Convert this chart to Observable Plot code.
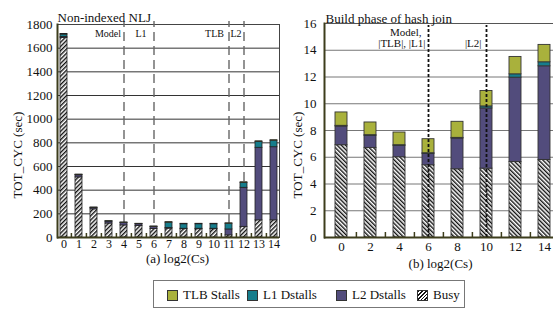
<!DOCTYPE html>
<html><head><meta charset="utf-8">
<script src="https://cdn.jsdelivr.net/npm/d3@7"></script>
<script src="https://cdn.jsdelivr.net/npm/@observablehq/plot@0.6"></script>
<style>
body{margin:0;background:#fff;}
#wrap{position:relative;width:553px;height:311px;overflow:hidden;font-family:"Liberation Serif","DejaVu Serif",serif;}
#wrap svg, #wrap svg text{font-family:"Liberation Serif","DejaVu Serif",serif !important;}
#wrap svg{max-width:none !important;}
.panel{position:absolute;top:0;width:290px;height:280px;}
#legend{position:absolute;left:153px;top:280px;width:312px;height:28px;border:1.5px solid #777;box-sizing:border-box;}
.item{position:absolute;top:1px;height:100%;display:flex;align-items:center;font-size:13px;color:#111;white-space:nowrap;font-family:"Liberation Serif",serif;}
.sw{width:11px;height:11px;border:1px solid #333;box-sizing:border-box;margin-right:5px;}
</style></head><body>
<div id="wrap"><div id="left" class="panel" style="left:0"></div><div id="right" class="panel" style="left:280px"></div><div id="legend"></div></div>
<script>
// ---- data ----
const series = ["TLB Stalls", "L1 Dstalls", "L2 Dstalls", "Busy"];
const stackOrder = ["Busy", "L2 Dstalls", "L1 Dstalls", "TLB Stalls"];

const leftCs   = [0, 1, 2, 3, 4, 5, 6, 7, 8, 9, 10, 11, 12, 13, 14];
const leftBusy = [1685, 508, 238, 118, 102, 98, 72, 75, 70, 70, 70, 18, 90, 145, 145];
const leftL2   = [10, 18, 12, 16, 20, 14, 17, 5, 4, 4, 4, 50, 330, 613, 618];
const leftL1   = [20, 3, 2, 2, 3, 2, 2, 45, 38, 38, 38, 48, 40, 50, 55];
const leftTLB  = [5, 3, 1, 2, 2, 2, 2, 5, 4, 4, 4, 4, 7, 5, 4];
const leftYTicks = [0, 200, 400, 600, 800, 1000, 1200, 1400, 1600, 1800];
const leftMarkers = [4, 6, 11, 12];
const leftMarkerLabels = ["Model", "L1", "TLB", "L2"];
const leftMarkerLabelAt = [4, 5, 11, 11];

const rightCs   = [0, 2, 4, 6, 8, 10, 12, 14];
const rightBusy = [6.9, 6.7, 6.0, 5.4, 5.1, 5.15, 5.65, 5.8];
const rightL2   = [1.4, 0.9, 0.85, 0.85, 2.3, 4.5, 6.3, 7.0];
const rightL1   = [0.05, 0.05, 0.05, 0.05, 0.05, 0.15, 0.25, 0.3];
const rightTLB  = [1.0, 0.95, 0.95, 1.05, 1.2, 1.15, 1.3, 1.3];
const rightYTicks = [0, 2, 4, 6, 8, 10, 12, 14, 16];
const rightMarkers = [6, 10];
const rightMarkerLabels = ["Model,", "|TLB|, |L1|", "|L2|"];
const rightMarkerLabelAt = [6, 6, 10];

// ---- layout / styles ----
const colors = {"TLB Stalls": "#a9b13c", "L1 Dstalls": "#167d8c", "L2 Dstalls": "#524c7c"};
const olive = "#3d3d1c";
const font = "'Liberation Serif', 'DejaVu Serif', serif";
const fmt = d => String(d);
const leftLabelLayout = [{dx: -3, anchor: "end"}, {dx: 2, anchor: "middle"}, {dx: -5, anchor: "end"}, {dx: 7, anchor: "middle"}];
const rightLabelLayout = [{dx: -7, anchor: "end", top: 8.5}, {dx: -3, anchor: "end", top: 20}, {dx: -5, anchor: "end", top: 20}];

function tidy(cs, busy, l2, l1, tlb) {
  const out = [];
  cs.forEach((c, i) => {
    out.push({cs: c, series: "Busy", value: busy[i]});
    out.push({cs: c, series: "L2 Dstalls", value: l2[i]});
    out.push({cs: c, series: "L1 Dstalls", value: l1[i]});
    out.push({cs: c, series: "TLB Stalls", value: tlb[i]});
  });
  return out;
}

function addHatch(svg, id, angle) {
  const defs = d3.select(svg).insert("defs", ":first-child");
  const p = defs.append("pattern").attr("id", id).attr("patternUnits", "userSpaceOnUse")
    .attr("width", 3).attr("height", 3).attr("patternTransform", `rotate(${angle})`);
  p.append("rect").attr("width", 3).attr("height", 3).attr("fill", "#fff");
  p.append("rect").attr("width", 1.4).attr("height", 3).attr("fill", "#111");
}

function addYLabel(svg, x, y, text) {
  d3.select(svg).append("text")
    .attr("transform", `translate(${x},${y}) rotate(-90)`)
    .attr("text-anchor", "middle").attr("dominant-baseline", "central")
    .attr("font-size", 13).attr("fill", "#111").text(text);
}

// ---- left panel ----
const leftData = tidy(leftCs, leftBusy, leftL2, leftL1, leftTLB);
const lH = 280, lTop = 24, lBottom = 43;
const lPx = (lH - lTop - lBottom) / 1800;
const leftPlot = Plot.plot({
  width: 290, height: lH,
  marginLeft: 57, marginRight: 11, marginTop: lTop, marginBottom: lBottom,
  style: {fontFamily: font, fontSize: "13px", color: "#111", background: "transparent", overflow: "visible", maxWidth: "none"},
  x: {type: "band", domain: leftCs, paddingInner: 0.55, paddingOuter: 0.175},
  y: {domain: [0, 1800]},
  color: {domain: series, range: [colors["TLB Stalls"], colors["L1 Dstalls"], colors["L2 Dstalls"], "url(#hatchL)"]},
  marks: [
    Plot.ruleY(leftYTicks.slice(1, -1), {stroke: "#333", strokeWidth: 1}),
    Plot.frame({stroke: "#444", strokeWidth: 1}),
    Plot.ruleX(leftMarkers, {x: d => d, y1: 0, y2: 1800 + 3 / lPx, stroke: "#666", strokeWidth: 1.4, strokeDasharray: "9,5"}),
    Plot.barY(leftData, {x: "cs", y: "value", fill: "series", z: "series", order: stackOrder, stroke: "#222", strokeWidth: 0.8}),
    Plot.ruleX(leftCs.slice(0, -1), {x: d => d, dx: 7.4, y1: 0, y2: 4 / lPx, stroke: olive, strokeWidth: 1.5}),
    Plot.ruleY([0], {stroke: olive, strokeWidth: 2}),
    Plot.frame({anchor: "left", stroke: olive, strokeWidth: 2}),
    Plot.axisY({ticks: leftYTicks, tickFormat: fmt, tickSize: 0, tickPadding: 5, label: null, fontSize: 13}),
    Plot.axisX({tickFormat: fmt, tickSize: 0, tickPadding: 2, label: null, fontSize: 12}),
    ...leftMarkerLabels.map((t, i) => Plot.text([t], {x: leftMarkerLabelAt[i], y: 1800 - 9 / lPx, text: d => d, dx: leftLabelLayout[i].dx, textAnchor: leftLabelLayout[i].anchor, fontSize: 10, fill: "#111"})),
    Plot.text(["Non-indexed NLJ"], {frameAnchor: "top-left", dy: -12, textAnchor: "start", fontSize: 13, fill: "#111"}),
    Plot.text(["(a) log2(Cs)"], {frameAnchor: "bottom", dx: 9, dy: 25, fontSize: 13, fill: "#111"})
  ]
});
addHatch(leftPlot, "hatchL", 45);
addYLabel(leftPlot, 17, 155, "TOT_CYC (sec)");
document.getElementById("left").appendChild(leftPlot);

// ---- right panel ----
const rightData = tidy(rightCs, rightBusy, rightL2, rightL1, rightTLB);
const rH = 280, rTop = 23, rBottom = 43;
const rPx = (rH - rTop - rBottom) / 16;
const rightPlot = Plot.plot({
  width: 290, height: rH,
  marginLeft: 44, marginRight: 10, marginTop: rTop, marginBottom: rBottom,
  style: {fontFamily: font, fontSize: "13px", color: "#111", background: "transparent", overflow: "visible", maxWidth: "none"},
  x: {type: "band", domain: rightCs, paddingInner: 0.59, paddingOuter: 0.25},
  y: {domain: [0, 16]},
  color: {domain: series, range: [colors["TLB Stalls"], colors["L1 Dstalls"], colors["L2 Dstalls"], "url(#hatchR)"]},
  marks: [
    Plot.ruleY(rightYTicks.slice(1, -1), {stroke: "#777", strokeWidth: 1}),
    Plot.frame({stroke: "#555", strokeWidth: 1}),
    Plot.barY(rightData, {x: "cs", y: "value", fill: "series", z: "series", order: stackOrder, stroke: "#333", strokeWidth: 0.9}),
    Plot.ruleX(rightMarkers, {x: d => d, y1: 0, y2: 16 - 2 / rPx, stroke: "#111", strokeWidth: 1.8, strokeDasharray: "3,2"}),
    Plot.ruleX(rightCs.slice(0, -1), {x: d => d, dx: 14.9, y1: 0, y2: 5 / rPx, stroke: olive, strokeWidth: 1.5}),
    Plot.ruleY([0], {stroke: olive, strokeWidth: 2}),
    Plot.frame({anchor: "left", stroke: olive, strokeWidth: 2}),
    Plot.axisY({ticks: rightYTicks, tickFormat: fmt, tickSize: 0, tickPadding: 8, label: null, fontSize: 13}),
    Plot.axisX({tickFormat: fmt, tickSize: 0, tickPadding: 4, label: null, fontSize: 13}),
    ...rightMarkerLabels.map((t, i) => Plot.text([t], {x: rightMarkerLabelAt[i], y: 16 - rightLabelLayout[i].top / rPx, text: d => d, dx: rightLabelLayout[i].dx, textAnchor: rightLabelLayout[i].anchor, fontSize: 11, fill: "#111"})),
    Plot.text(["Build phase of hash join"], {frameAnchor: "top-left", dx: 1, dy: -10, textAnchor: "start", fontSize: 13, fill: "#111"}),
    Plot.text(["(b) log2(Cs)"], {frameAnchor: "bottom", dx: -2, dy: 30, fontSize: 13, fill: "#111"})
  ]
});
addHatch(rightPlot, "hatchR", -45);
addYLabel(rightPlot, 17, 155, "TOT_CYC (sec)");
document.getElementById("right").appendChild(rightPlot);

// ---- legend ----
const legendX = [13, 93, 182, 263];
const legend = d3.select("#legend");
series.forEach((s, i) => {
  const item = legend.append("div").attr("class", "item").style("left", legendX[i] + "px");
  const sw = item.append("div").attr("class", "sw");
  if (colors[s]) sw.style("background", colors[s]);
  else sw.style("background", "repeating-linear-gradient(135deg, #111 0 1.2px, #fff 1.2px 2.6px)");
  item.append("span").text(s);
});
</script>
</body></html>
